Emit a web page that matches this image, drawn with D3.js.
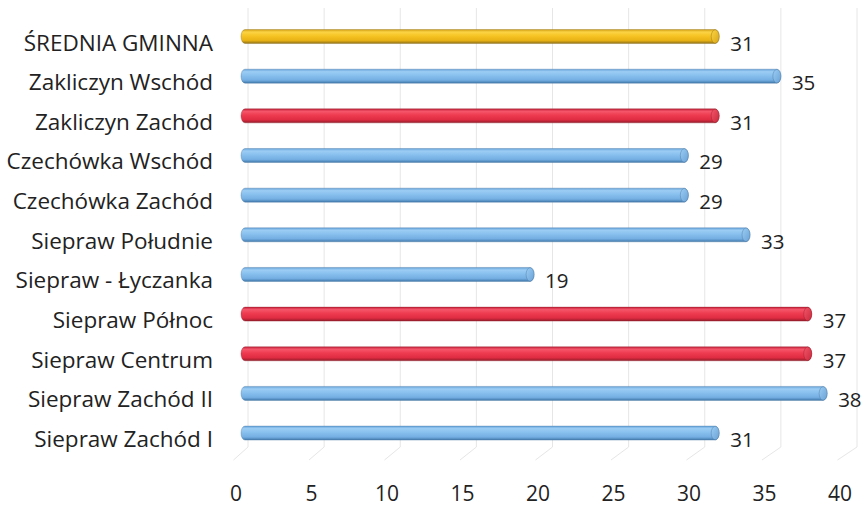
<!DOCTYPE html>
<html>
<head>
<meta charset="utf-8">
<script src="https://cdn.jsdelivr.net/npm/d3@7"></script>
<style>
  html, body { margin: 0; padding: 0; background: #fff; }
  svg { display: block; }
</style>
</head>
<body>
<svg id="chart" width="863" height="506"></svg>
<script>
// ---- data ----
const categories = [
  "ŚREDNIA GMINNA",
  "Zakliczyn Wschód",
  "Zakliczyn Zachód",
  "Czechówka Wschód",
  "Czechówka Zachód",
  "Siepraw Południe",
  "Siepraw - Łyczanka",
  "Siepraw Północ",
  "Siepraw Centrum",
  "Siepraw Zachód II",
  "Siepraw Zachód I"
];
const values = [31, 35, 31, 29, 29, 33, 19, 37, 37, 38, 31];
const groups = ["avg", "normal", "high", "normal", "normal", "normal", "normal", "high", "high", "normal", "normal"];
const tickValues = [0, 5, 10, 15, 20, 25, 30, 35, 40];

// ---- scales ----
const svg = d3.select("#chart");
const y = d3.scalePoint().domain(categories).range([16.7, 452.9]).padding(0.5);
const xBar = d3.scaleLinear().domain([0, 40]).range([241, 858]);
const xBack = d3.scaleLinear().domain([0, 40]).range([248, 857]);
const xFront = d3.scaleLinear().domain([0, 40]).range([235.5, 839.5]);

const palette = {
  normal: { stops: ["#66a3da", "#9ccdf4", "#88c0ee", "#74aee2", "#4279ab"], cap: "#69a2d6", edge: "#44749f" },
  high:   { stops: ["#c3203a", "#f5566a", "#ee3b50", "#df2c42", "#931c2a"], cap: "#c9283b", edge: "#8e1f2b" },
  avg:    { stops: ["#d19f12", "#fbd445", "#f6c424", "#e8b214", "#8f7118"], cap: "#d8a616", edge: "#8a6a16" }
};

const defs = svg.append("defs");
Object.entries(palette).forEach(([k, p]) => {
  const g = defs.append("linearGradient").attr("id", "grad-" + k)
    .attr("x1", 0).attr("y1", 0).attr("x2", 0).attr("y2", 1);
  const offs = [0, 0.18, 0.45, 0.78, 1];
  p.stops.forEach((c, i) => g.append("stop").attr("offset", offs[i]).attr("stop-color", c));
  const gc = defs.append("linearGradient").attr("id", "cap-" + k)
    .attr("x1", 0).attr("y1", 0).attr("x2", 1).attr("y2", 1);
  gc.append("stop").attr("offset", 0).attr("stop-color", p.stops[1]);
  gc.append("stop").attr("offset", 1).attr("stop-color", p.cap);
});

// ---- gridlines (back wall + floor diagonals) ----
const grid = svg.append("g").attr("stroke", "#e6e6e6").attr("stroke-width", 1).attr("fill", "none");
tickValues.forEach(t => {
  grid.append("path")
    .attr("d", `M${xBack(t)},8 L${xBack(t)},447 L${xFront(t) - 2},460`);
});

// ---- bars ----
const barH = 14;
const bars = svg.append("g").selectAll("g.bar")
  .data(categories.map((c, i) => ({ c, v: values[i], g: groups[i] })))
  .join("g").attr("class", "bar");

bars.append("rect")
  .attr("x", xBar(0))
  .attr("y", d => y(d.c) - barH / 2)
  .attr("width", d => xBar(d.v) - xBar(0))
  .attr("height", barH)
  .attr("rx", 4).attr("ry", 7)
  .attr("fill", d => `url(#grad-${d.g})`)
  .attr("stroke", d => palette[d.g].edge)
  .attr("stroke-width", 0.6)
  .attr("stroke-opacity", 0.6);

bars.append("ellipse")
  .attr("cx", d => xBar(d.v) - 4)
  .attr("cy", d => y(d.c))
  .attr("rx", 4)
  .attr("ry", barH / 2 - 0.3)
  .attr("fill", d => `url(#cap-${d.g})`)
  .attr("stroke", d => palette[d.g].edge)
  .attr("stroke-width", 0.6)
  .attr("stroke-opacity", 0.7);

// value labels
bars.append("text")
  .attr("x", d => xBar(d.v) + 11)
  .attr("y", d => y(d.c) + 14)
  .attr("font-family", "'Open Sans', sans-serif")
  .attr("font-size", 20.5)
  .attr("fill", "#222")
  .text(d => d.v);

// category labels
svg.append("g").selectAll("text")
  .data(categories)
  .join("text")
  .attr("x", 213)
  .attr("y", d => y(d) + 14)
  .attr("text-anchor", "end")
  .attr("font-family", "'Open Sans', sans-serif")
  .attr("font-size", 22.5)
  .attr("fill", "#222")
  .text(d => d);

// x axis labels
const axis = svg.append("g")
  .attr("transform", "translate(0,483)")
  .call(d3.axisBottom(xFront).tickValues(tickValues).tickSize(0).tickPadding(3));
axis.select(".domain").remove();
axis.selectAll("text")
  .attr("font-family", "'Open Sans', sans-serif")
  .attr("font-size", 21)
  .attr("fill", "#222");
</script>
</body>
</html>
